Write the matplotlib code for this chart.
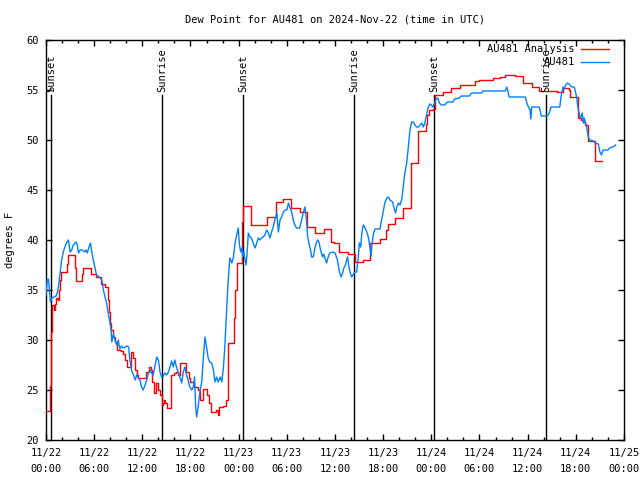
import matplotlib
matplotlib.use("Agg")
import matplotlib.pyplot as plt
import matplotlib.transforms as mtransforms
from matplotlib.ticker import MultipleLocator, FixedLocator
import numpy as np

# ---------------- data (hours since 2024-11-22 00:00 UTC) ----------------
red_t = [0.0, 0.45, 0.62, 0.7, 0.95, 1.1, 1.25, 1.5, 1.6, 1.75, 1.85, 2.6, 2.8, 3.6, 3.7,
         4.5, 4.65, 5.6, 6.2, 6.8, 7.4, 7.75, 7.85, 8.0, 8.1, 8.4, 8.6, 8.9, 9.3, 9.6,
         9.85, 10.05, 10.6, 10.85, 11.05, 11.3, 11.5, 12.5, 12.85, 13.1, 13.25, 13.45,
         13.65, 13.9, 14.2, 14.4, 14.6, 14.75, 14.85, 15.05, 15.6, 15.9, 16.2, 16.5,
         16.65, 17.45, 17.8, 18.0, 18.45, 18.9, 19.15, 19.55, 20.1, 20.35, 20.55, 21.2,
         21.4, 21.6, 22.1, 22.45, 22.65, 23.45, 23.6, 23.75, 24.45, 24.6, 25.5, 27.55,
         28.6, 29.5, 30.55, 31.6, 32.45, 33.5, 34.6, 35.55, 35.9, 36.45, 37.6, 38.45,
         39.5, 40.4, 41.65, 42.4, 42.6, 43.45, 44.5, 45.45, 46.4, 47.3, 47.45, 47.7,
         48.2, 48.45, 49.4, 50.5, 51.55, 53.4, 54.0, 55.7, 56.5, 57.2, 58.4, 59.45,
         60.5, 61.45, 63.6, 64.4, 65.1, 65.3, 66.3, 66.7, 66.9, 67.1, 67.5, 68.4, 69.2]
red_v = [22.9, 25.4, 30.8, 33.5, 33.0, 33.6, 34.2, 34.0, 35.0, 36.0, 36.8, 37.6, 38.5, 37.2, 35.9,
         36.6, 37.2, 36.6, 36.3, 35.6, 35.3, 34.0, 32.8, 31.7, 31.0, 30.3, 29.8, 29.0, 28.9, 28.6,
         28.0, 27.3, 28.8, 28.2, 27.0, 26.5, 26.2, 26.8, 27.3, 27.0, 25.8, 24.7,
         25.7, 25.0, 24.5, 23.5, 23.7, 24.0, 23.7, 23.2, 26.5, 26.7, 26.8, 26.5,
         27.7, 26.8, 26.2, 25.8, 25.3, 25.0, 24.0, 25.1, 24.5, 23.7, 22.8, 23.0,
         22.5, 23.3, 23.4, 24.0, 29.7, 32.2, 35.0, 37.7, 41.8, 43.4, 41.5, 42.3,
         43.8, 44.1, 43.2, 42.8, 41.3, 40.7, 41.1, 39.8, 39.7, 38.8, 38.6, 37.8,
         38.0, 39.7, 40.1, 41.0, 41.6, 42.2, 43.2, 47.7, 50.9, 51.6, 52.5, 53.0,
         53.1, 54.5, 54.8, 55.2, 55.5, 55.9, 56.0, 56.2, 56.3, 56.5, 56.4, 55.7,
         55.3, 54.9, 54.8, 55.2, 55.0, 54.3, 52.2, 52.0, 51.8, 51.5, 49.9, 47.9, 47.9]

blue_t = [0.0, 0.15, 0.3, 0.45, 0.55, 0.75, 1.0, 1.25, 1.4, 1.55, 1.65, 1.8, 1.95, 2.15, 2.35,
          2.55, 2.8, 3.0, 3.2, 3.4, 3.75, 3.9, 4.05, 4.25, 4.55, 4.8, 5.0, 5.15, 5.35, 5.55,
          5.7, 5.9, 6.1, 6.3, 6.5, 6.75, 6.95, 7.15, 7.35, 7.55, 7.75, 7.95, 8.1, 8.2, 8.4,
          8.6, 8.8, 9.0, 9.2, 9.4, 9.6, 9.85, 10.1, 10.3, 10.45, 10.65, 10.9, 11.1, 11.3,
          11.5, 11.7, 11.9, 12.1, 12.35, 12.55, 12.75, 12.95, 13.15, 13.35, 13.55, 13.8,
          14.0, 14.2, 14.4, 14.6, 14.8, 15.0, 15.2, 15.45, 15.65, 15.85, 16.05, 16.25,
          16.5, 16.7, 16.9, 17.1, 17.3, 17.5, 17.7, 17.9, 18.15, 18.35, 18.5, 18.65,
          18.77, 18.95, 19.2, 19.4, 19.6, 19.8, 20.0, 20.2, 20.4, 20.65, 20.85, 21.05,
          21.25, 21.45, 21.7, 21.9, 22.1, 22.3, 22.5, 22.7, 22.9, 23.0, 23.15, 23.35,
          23.55, 23.75, 23.95, 24.1, 24.25, 24.4, 24.5, 24.65, 24.8, 24.92, 25.05, 25.2,
          25.4, 25.6, 25.8, 26.05, 26.25, 26.45, 26.65, 26.85, 27.05, 27.25, 27.5, 27.7,
          27.9, 28.1, 28.3, 28.5, 28.75, 28.95, 29.15, 29.35, 29.55, 29.8, 30.0, 30.2,
          30.4, 30.6, 30.8, 31.0, 31.2, 31.6, 31.85, 32.05, 32.25, 32.45, 32.6, 32.8,
          32.95, 33.1, 33.3, 33.45, 33.65, 33.85, 34.0, 34.2, 34.45, 34.6, 34.75, 34.95,
          35.15, 35.35, 35.7, 36.0, 36.3, 36.5, 36.75, 36.95, 37.1, 37.3, 37.45, 37.57,
          37.7, 37.87, 38.08, 38.3, 38.5, 38.7, 38.9, 39.02, 39.2, 39.3, 39.45, 39.55,
          39.74, 39.95, 40.15, 40.35, 40.5, 40.6, 40.8, 41.0, 41.6, 41.8, 42.0, 42.2,
          42.45, 42.64, 42.85, 43.18, 43.35, 43.55, 43.7, 43.9, 44.1, 44.3, 44.5, 44.7,
          44.93, 45.1, 45.34, 45.55, 45.75, 45.95, 46.17, 46.4, 46.6, 46.8, 47.0, 47.2,
          47.4, 47.6, 47.8, 48.0, 48.2, 48.4, 48.6, 48.8, 49.0, 49.25, 49.66, 49.85,
          50.07, 50.7, 50.9, 51.5, 51.7, 52.75, 53.0, 54.27, 54.4, 57.2, 57.4, 57.5,
          57.7, 59.7, 59.9, 60.1, 60.3, 60.4, 60.5, 61.45, 61.7, 62.45, 62.7, 62.9,
          64.0, 64.15, 64.4, 64.55, 64.75, 64.94, 65.15, 65.5, 65.8, 65.9, 66.1, 66.25,
          66.4, 66.55, 66.65, 66.8, 66.95, 67.05, 67.35, 67.55, 67.75, 68.2, 68.4, 68.8,
          69.0, 69.2, 69.4, 70.0, 70.2, 70.6, 70.96]
blue_v = [34.5, 36.0, 36.1, 34.8, 33.8, 34.2, 34.3, 34.4, 34.7, 35.3, 36.0, 37.0, 38.0, 38.8, 39.3,
          39.7, 40.0, 38.8, 39.0, 39.5, 39.8, 39.5, 38.7, 39.0, 39.0, 38.8, 39.0, 38.7, 39.3, 39.7,
          38.8, 38.0, 37.2, 36.5, 36.4, 36.2, 36.0, 35.0, 34.3, 33.7, 32.7, 31.8, 31.0, 29.8, 30.6,
          30.0, 29.5, 30.0, 29.1, 29.4, 29.2, 29.3, 29.4, 29.3, 28.0, 27.0, 26.5, 26.0, 26.5,
          26.2, 26.0, 25.3, 25.0, 25.5, 26.0, 26.7, 27.0, 26.7, 26.5, 27.3, 28.3,
          28.0, 26.8, 26.3, 26.4, 26.7, 26.5, 26.7, 27.3, 27.9, 27.3, 28.0, 27.3,
          26.7, 26.2, 25.7, 26.8, 27.3, 26.5, 26.0, 25.3, 25.0, 25.3, 26.3, 23.3,
          22.3, 23.3, 25.0, 25.8, 28.2, 30.3, 29.3, 28.2, 27.8, 27.7, 27.0, 25.8,
          26.3, 25.8, 26.3, 25.8, 27.2, 29.7, 33.0, 36.0, 38.2, 38.0, 37.7, 38.3,
          39.7, 40.5, 41.2, 39.5, 38.8, 39.2, 38.3, 38.8, 38.0, 37.5, 38.7, 40.7,
          40.3, 40.2, 39.7, 39.2, 39.7, 40.2, 40.0, 40.2, 40.3, 40.5, 41.0, 40.7,
          40.2, 40.8, 41.3, 42.0, 42.7, 40.8, 42.0, 42.3, 42.8, 43.0, 43.0, 43.7,
          43.2, 42.8, 42.0, 41.5, 41.2, 41.2, 42.0, 42.8, 43.3, 42.0, 40.3, 39.5,
          39.0, 38.3, 38.3, 39.0, 39.7, 40.0, 39.8, 39.0, 38.3, 38.6, 38.2, 37.7,
          38.3, 38.7, 38.8, 38.7, 38.0, 37.0, 36.3, 36.7, 37.2, 37.5, 38.0, 38.3,
          37.5, 36.8, 36.3, 36.6, 36.8, 36.8, 38.3, 39.7, 39.3, 40.3, 41.3, 41.5,
          41.2, 40.8, 40.3, 39.3, 38.4, 39.5, 40.7, 41.1, 41.1, 42.0, 42.8, 43.7,
          44.2, 44.3, 44.0, 43.8, 43.2, 42.7, 43.3, 43.7, 43.5, 44.0, 45.3, 46.7,
          47.7, 49.0, 51.0, 51.8, 51.8, 51.5, 51.3, 51.3, 51.5, 51.7, 51.3, 51.7,
          52.5, 53.2, 53.6, 53.5, 53.3, 53.7, 54.1, 54.2, 53.7, 53.5, 53.5, 53.7,
          53.8, 53.8, 54.1, 54.2, 54.4, 54.4, 54.7, 54.7, 54.9, 54.9, 55.3, 55.0,
          54.3, 54.3, 53.7, 53.3, 53.0, 52.1, 53.3, 53.3, 52.4, 52.4, 52.7, 53.3,
          53.3, 54.3, 55.3, 55.1, 55.5, 55.7, 55.6, 55.3, 55.3, 55.0, 54.3, 53.3,
          52.7, 52.2, 52.3, 52.7, 51.7, 52.2, 51.3, 50.3, 50.0, 49.9, 49.7, 49.6,
          48.8, 48.5, 49.0, 49.0, 49.2, 49.3, 49.5]

sun_t = [0.65, 14.5, 24.58, 38.4, 48.37, 62.33]
sun_labels = ["Sunset", "Sunrise", "Sunset", "Sunrise", "Sunset", "Sunrise"]

xtick_labels = ["11/22\n00:00", "11/22\n06:00", "11/22\n12:00", "11/22\n18:00",
                "11/23\n00:00", "11/23\n06:00", "11/23\n12:00", "11/23\n18:00",
                "11/24\n00:00", "11/24\n06:00", "11/24\n12:00", "11/24\n18:00",
                "11/25\n00:00"]
title = "Dew Point for AU481 on 2024-Nov-22 (time in UTC)"
series_names = ["AU481 Analysis", "AU481"]
colors = ["#ff0000", "#0080ff"]

# ---------------- plot ----------------
FONT = "DejaVu Sans Mono"
FS = 7.5
plt.rcParams['font.family'] = [FONT]
plt.rcParams['font.size'] = FS

fig = plt.figure(figsize=(6.4, 4.8), dpi=100)
ax = fig.add_axes([46/640, 40/480, 578/640, 400/480])

ax.plot(red_t, red_v, color=colors[0], lw=1.0, drawstyle='steps-post', zorder=3)
ax.plot(blue_t, blue_v, color=colors[1], lw=1.0, zorder=4)

trans = mtransforms.blended_transform_factory(ax.transData, ax.transAxes)
for t, lab in zip(sun_t, sun_labels):
    ax.axvline(t, ymin=0, ymax=0.8625, color='black', lw=1.0, zorder=2)
    ax.text(t, 0.87, lab, transform=trans, rotation=90, ha='center', va='bottom',
            fontsize=FS, zorder=5)

ax.set_xlim(0, 72)
ax.set_ylim(20, 60)
ax.xaxis.set_major_locator(FixedLocator(list(range(0, 73, 6))))
ax.set_xticklabels(xtick_labels, linespacing=1.65)
ax.xaxis.set_minor_locator(MultipleLocator(2))
ax.yaxis.set_major_locator(MultipleLocator(5))
ax.tick_params(which='both', direction='in', top=True, right=True, width=1.0,
               colors='black', labelsize=FS)
ax.tick_params(which='major', length=4.5, pad=5)
ax.tick_params(axis='x', which='major', pad=6)
ax.tick_params(which='minor', length=2.5)
for s in ax.spines.values():
    s.set_linewidth(1.0)

ax.set_ylabel("degrees F", fontsize=FS, labelpad=8)
fig.text(335/640, 1 - 20/480, title, ha='center', va='center', fontsize=FS)

# legend (gnuplot style: right-justified text, sample line on right)
for i, (name, c) in enumerate(zip(series_names, colors)):
    yy = 0.9775 - i * 0.0325
    ax.text(0.915, yy, name, transform=ax.transAxes, ha='right', va='center', fontsize=FS, zorder=6)
    ax.plot([0.926, 0.974], [yy, yy], transform=ax.transAxes, color=c, lw=1.0, zorder=6)

fig.savefig("out.png", dpi=100)
